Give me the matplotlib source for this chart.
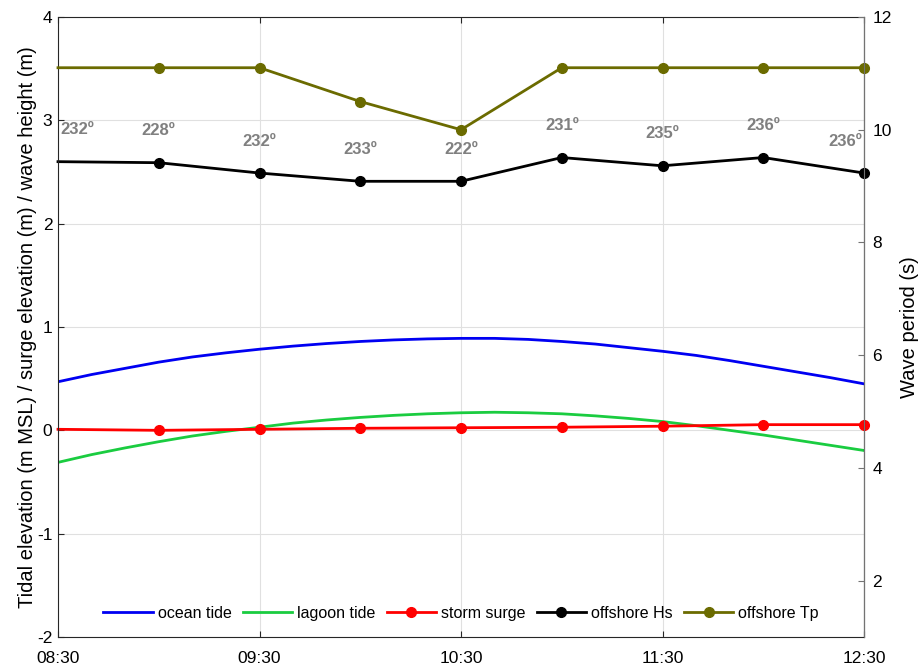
import numpy as np
import pandas as pd
import matplotlib
matplotlib.use("Agg")
import matplotlib.pyplot as plt
import matplotlib.dates as mdates

plt.rcParams['font.family'] = ['Liberation Sans', 'DejaVu Sans']
plt.rcParams['axes.unicode_minus'] = False

# tide curves sampled every 10 min, 08:30 - 12:30
tide_times = pd.date_range("2016-01-01 08:30", "2016-01-01 12:30", freq="10min")
ocean_tide = [0.47, 0.54, 0.60, 0.66, 0.71, 0.75, 0.785, 0.815, 0.84, 0.86,
              0.875, 0.885, 0.89, 0.89, 0.88, 0.86, 0.835, 0.80, 0.765, 0.725,
              0.675, 0.62, 0.565, 0.51, 0.45]
lagoon_tide = [-0.31, -0.235, -0.17, -0.11, -0.055, -0.01, 0.03, 0.07, 0.10, 0.125,
               0.145, 0.16, 0.17, 0.175, 0.17, 0.16, 0.14, 0.115, 0.085, 0.045,
               0.0, -0.045, -0.095, -0.145, -0.195]

# half-hourly surge and offshore wave conditions
obs_times = pd.date_range("2016-01-01 08:30", "2016-01-01 12:30", freq="30min")
storm_surge = [0.01, 0.00, 0.01, 0.02, 0.025, 0.03, 0.04, 0.055, 0.055]
offshore_hs = [2.60, 2.59, 2.49, 2.41, 2.41, 2.64, 2.56, 2.64, 2.49]
offshore_tp = [11.1, 11.1, 11.1, 10.5, 10.0, 11.1, 11.1, 11.1, 11.1]
wave_dir = ["232º", "228º", "232º", "233º", "222º", "231º", "235º", "236º", "236º"]

fig = plt.figure(figsize=(9.22, 6.71), dpi=100)
ax = fig.add_axes([58 / 922, 34 / 671, 806 / 922, 620 / 671])
ax2 = ax.twinx()

lw = 2
ms = 7
mk = list(range(1, len(obs_times)))

h1, = ax.plot(tide_times, ocean_tide, color=(0, 0, 0.95), lw=lw, label="ocean tide")
h2, = ax.plot(tide_times, lagoon_tide, color=(0.1, 0.8, 0.25), lw=lw, label="lagoon tide")
h3, = ax.plot(obs_times, storm_surge, color="red", lw=lw, marker="o", ms=ms,
              markevery=mk, clip_on=False, label="storm surge")
h4, = ax.plot(obs_times, offshore_hs, color="black", lw=lw, marker="o", ms=ms,
              markevery=mk, clip_on=False, label="offshore Hs")
h5, = ax2.plot(obs_times, offshore_tp, color=(0.42, 0.42, 0.0), lw=lw, marker="o", ms=ms,
               markevery=mk, clip_on=False, label="offshore Tp")

# wave direction above each Hs point
n = len(obs_times)
for i, (t, hs, d) in enumerate(zip(obs_times, offshore_hs, wave_dir)):
    if i == 0:
        ha, dx = "left", 2
    elif i == n - 1:
        ha, dx = "right", -1
    else:
        ha, dx = "center", 0
    ax.annotate(d, (t, hs + 0.31), xytext=(dx, 0), textcoords="offset points",
                ha=ha, va="center", fontsize=12, fontweight="bold", color=(0.5, 0.5, 0.5))

ax.set_xlim(obs_times[0], obs_times[-1])
ax.set_ylim(-2, 4)
ax.set_yticks(np.arange(-2, 5, 1))
ax2.set_ylim(1, 12)
ax2.set_yticks(np.arange(2, 13, 2))

ax.set_xticks(pd.date_range("2016-01-01 08:30", "2016-01-01 12:30", freq="60min"))
ax.xaxis.set_major_formatter(mdates.DateFormatter("%H:%M"))

ax.grid(True, color=(0.88, 0.88, 0.88), lw=0.8)
ax.set_axisbelow(True)

ax.tick_params(direction="in", length=4, labelsize=12.5, top=True, right=False,
               colors=(0.15, 0.15, 0.15), labelcolor="black")
ax.tick_params(axis="y", pad=4)
ax.tick_params(axis="x", pad=10)
ax2.tick_params(direction="in", length=4, labelsize=12.5, colors=(0.45, 0.45, 0.45),
                labelcolor="black", pad=6)
for s in ["left", "bottom", "top"]:
    ax.spines[s].set_color((0.15, 0.15, 0.15))
for s in ["left", "bottom", "top"]:
    ax2.spines[s].set_visible(False)
ax2.spines["right"].set_color((0.45, 0.45, 0.45))

ax.set_ylabel("Tidal elevation (m MSL) / surge elevation (m) / wave height (m)",
              fontsize=14.5, labelpad=0)
ax2.set_ylabel("Wave period (s)", fontsize=14.5, labelpad=6)

ax2.legend(handles=[h1, h2, h3, h4, h5], loc="lower center", ncol=5, frameon=False,
           fontsize=11.5, handlelength=3.1, handletextpad=0.3, columnspacing=0.7,
           borderaxespad=0.6)

fig.savefig("out.png", dpi=100)
